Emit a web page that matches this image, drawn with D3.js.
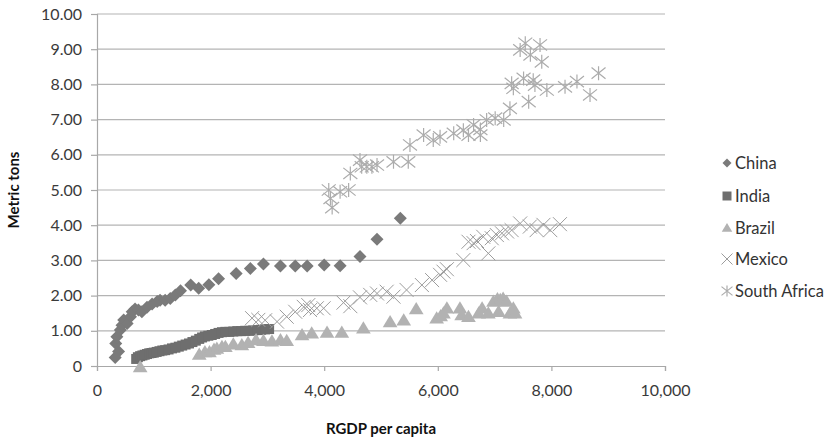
<!DOCTYPE html>
<html>
<head>
<meta charset="utf-8">
<script src="https://cdn.jsdelivr.net/npm/d3@7"></script>
<style>
  body { margin: 0; background: #fff; }
  text { font-family: Lato, "Open Sans", sans-serif; }
</style>
</head>
<body>
<svg id="chart"></svg>
<script>
// data: [RGDP per capita, metric tons]
const china = [[320,0.24],[380,0.41],[330,0.64],[350,0.83],[410,1.02],[440,1.16],[470,1.31],[530,1.21],
  [590,1.40],[620,1.54],[670,1.62],[730,1.59],[790,1.54],[880,1.67],[970,1.76],[1060,1.83],[1110,1.87],
  [1200,1.87],[1290,1.92],[1380,2.02],[1470,2.14],[1650,2.30],[1790,2.21],[1970,2.31],[2140,2.48],
  [2450,2.63],[2700,2.77],[2930,2.90],[3230,2.84],[3490,2.84],[3700,2.84],[4000,2.87],[4280,2.85],
  [4630,3.11],[4930,3.60],[5340,4.20]];
const india = [[690,0.20],[720,0.25],[760,0.28],[800,0.30],[840,0.32],[880,0.34],[920,0.36],[960,0.37],
  [1000,0.38],[1050,0.40],[1100,0.42],[1150,0.44],[1200,0.45],[1260,0.47],[1320,0.50],[1380,0.52],
  [1440,0.55],[1500,0.58],[1560,0.61],[1620,0.64],[1680,0.68],[1740,0.72],[1800,0.77],[1850,0.81],
  [1900,0.84],[1960,0.86],[2020,0.88],[2080,0.91],[2140,0.94],[2200,0.96],[2260,0.97],[2330,0.97],
  [2400,0.98],[2470,0.99],[2540,0.99],[2610,1.00],[2680,1.00],[2750,1.01],[2820,1.02],[2890,1.03],
  [2960,1.04],[3030,1.05]];
const brazil = [[760,-0.03],[1800,0.33],[1900,0.40],[1980,0.40],[2060,0.47],[2110,0.50],[2200,0.55],
  [2260,0.55],[2400,0.62],[2550,0.60],[2660,0.66],[2800,0.74],[2930,0.72],[3080,0.70],[3230,0.74],
  [3340,0.72],[3610,0.88],[3780,0.93],[4050,0.95],[4310,0.95],[4690,1.07],[5160,1.25],[5400,1.30],
  [5620,1.62],[5980,1.36],[6050,1.42],[6100,1.50],[6160,1.64],[6390,1.64],[6420,1.45],[6540,1.40],
  [6720,1.50],[6780,1.64],[6890,1.50],[6980,1.83],[7050,1.90],[7100,1.88],[7150,1.92],[7210,1.83],
  [7070,1.54],[7270,1.50],[7360,1.50],[7330,1.64]];
const mexico = [[2730,1.36],[2840,1.31],[2960,1.30],[3170,1.26],[3340,1.40],[3490,1.54],[3640,1.68],
  [3720,1.73],[3750,1.59],[3870,1.64],[3990,1.64],[4340,1.80],[4460,1.70],[4630,1.95],[4810,2.02],
  [4930,2.06],[5100,2.11],[5220,1.97],[5450,2.16],[5720,2.30],[5900,2.44],[6040,2.59],[6100,2.68],
  [6160,2.75],[6450,3.01],[6540,3.53],[6630,3.49],[6690,3.55],[6800,3.67],[6890,3.20],[6950,3.63],
  [7040,3.72],[7130,3.77],[7220,3.82],[7300,3.86],[7450,4.05],[7620,3.96],[7740,3.86],[7860,4.01],
  [7980,3.86],[8150,4.03]];
const southAfrica = [[4080,5.00],[4110,4.76],[4140,4.50],[4280,4.95],[4430,5.00],[4460,5.47],[4630,5.85],
  [4660,5.66],[4750,5.66],[4840,5.66],[4930,5.71],[5220,5.80],[5480,5.80],[5510,6.28],[5750,6.56],
  [5920,6.42],[6040,6.51],[6280,6.61],[6450,6.70],[6540,6.56],[6630,6.85],[6750,6.56],[6750,6.72],
  [6860,6.99],[7010,7.04],[7160,6.99],[7270,7.32],[7300,8.03],[7330,7.89],[7510,8.17],[7600,7.51],
  [7450,8.98],[7540,9.17],[7630,8.84],[7800,9.12],[7830,8.64],[7680,8.12],[7710,7.98],[7920,7.84],
  [8240,7.93],[8450,8.08],[8680,7.70],[8830,8.32]];

const seriesNames = ["China", "India", "Brazil", "Mexico", "South Africa"];
const xTicks = [0, 2000, 4000, 6000, 8000, 10000];
const yTicks = [0, 1, 2, 3, 4, 5, 6, 7, 8, 9, 10];

const width = 831, height = 437;
const margin = {left: 97, right: 166, top: 14, bottom: 71};

const svg = d3.select("#chart").attr("width", width).attr("height", height);

const x = d3.scaleLinear().domain([0, 10000]).range([margin.left, width - margin.right]);
const y = d3.scaleLinear().domain([0, 10]).range([height - margin.bottom, margin.top]);

// gridlines
svg.append("g")
   .selectAll("line")
   .data(yTicks.filter(d => d > 0))
   .enter()
   .append("line")
   .attr("x1", x(0))
   .attr("x2", x(10000))
   .attr("y1", d => y(d))
   .attr("y2", d => y(d))
   .attr("stroke", "#b4b4b4")
   .attr("stroke-width", 1.2);

// axes
const yAxis = svg.append("g")
   .attr("transform", `translate(${x(0)},0)`)
   .call(d3.axisLeft(y).tickValues(yTicks).tickSize(6).tickPadding(9)
         .tickFormat(d => d === 0 ? "0" : d3.format(".2f")(d)));
const xAxis = svg.append("g")
   .attr("transform", `translate(0,${y(0)})`)
   .call(d3.axisBottom(x).tickValues(xTicks).tickSize(5).tickPadding(14)
         .tickFormat(d3.format(",")));

[yAxis, xAxis].forEach(ax => {
    ax.select(".domain").attr("stroke", "#a8a8a8").attr("stroke-width", 1.2);
    ax.selectAll(".tick line").attr("stroke", "#a8a8a8").attr("stroke-width", 1.2);
    ax.selectAll(".tick text")
      .attr("font-family", "Lato, 'Open Sans', sans-serif")
      .attr("font-size", "16px")
      .attr("fill", "#3a3a3a");
});

// marker shapes
function diamond(s) { return `M0,${-s}L${s},0L0,${s}L${-s},0Z`; }
function square(s) { return `M${-s},${-s}H${s}V${s}H${-s}Z`; }
function triangle(s) { return `M0,${-s}L${s * 1.05},${s * 0.75}H${-s * 1.05}Z`; }
function cross(s) { return `M${-s},${-s}L${s},${s}M${-s},${s}L${s},${-s}`; }
function asterisk(s) { return `M${-s},${-s * 0.8}L${s},${s * 0.8}M${-s},${s * 0.8}L${s},${-s * 0.8}M0,${-s}V${s}`; }

const styles = [
    {data: china, path: diamond(6.5), fill: "#7a7a7a", stroke: "none", lw: 0},
    {data: india, path: square(5), fill: "#6e6e6e", stroke: "none", lw: 0},
    {data: brazil, path: triangle(7), fill: "#b2b2b2", stroke: "none", lw: 0},
    {data: mexico, path: cross(7), fill: "none", stroke: "#9c9c9c", lw: 1},
    {data: southAfrica, path: asterisk(7), fill: "none", stroke: "#acacac", lw: 1.2}
];

// draw points
styles.forEach(st => {
    svg.append("g")
       .selectAll("path")
       .data(st.data)
       .enter()
       .append("path")
       .attr("transform", d => `translate(${x(d[0])},${y(d[1])})`)
       .attr("d", st.path)
       .attr("fill", st.fill)
       .attr("stroke", st.stroke)
       .attr("stroke-width", st.lw);
});

// legend
const legendY = [163, 196, 228, 259, 291];
const legend = svg.append("g");
seriesNames.forEach((name, i) => {
    const st = styles[i];
    legend.append("path")
          .attr("transform", `translate(727,${legendY[i]})`)
          .attr("d", i === 0 ? diamond(4.5) : i === 1 ? square(4.5) : i === 2 ? triangle(5) : i === 3 ? cross(5.5) : asterisk(5.5))
          .attr("fill", st.fill)
          .attr("stroke", st.stroke)
          .attr("stroke-width", st.lw);
    legend.append("text")
          .attr("x", 735)
          .attr("y", legendY[i])
          .attr("dy", "0.35em")
          .attr("font-size", "16.5px")
          .attr("fill", "#333")
          .text(name);
});

// axis titles
svg.append("text")
   .attr("x", (x(0) + x(10000)) / 2)
   .attr("y", 434)
   .attr("text-anchor", "middle")
   .attr("font-size", "15px")
   .attr("font-weight", "bold")
   .attr("fill", "#111")
   .text("RGDP per capita");

svg.append("text")
   .attr("transform", `translate(19,${(y(0) + y(10)) / 2}) rotate(-90)`)
   .attr("text-anchor", "middle")
   .attr("font-size", "15px")
   .attr("font-weight", "bold")
   .attr("fill", "#111")
   .text("Metric tons");
</script>
</body>
</html>
